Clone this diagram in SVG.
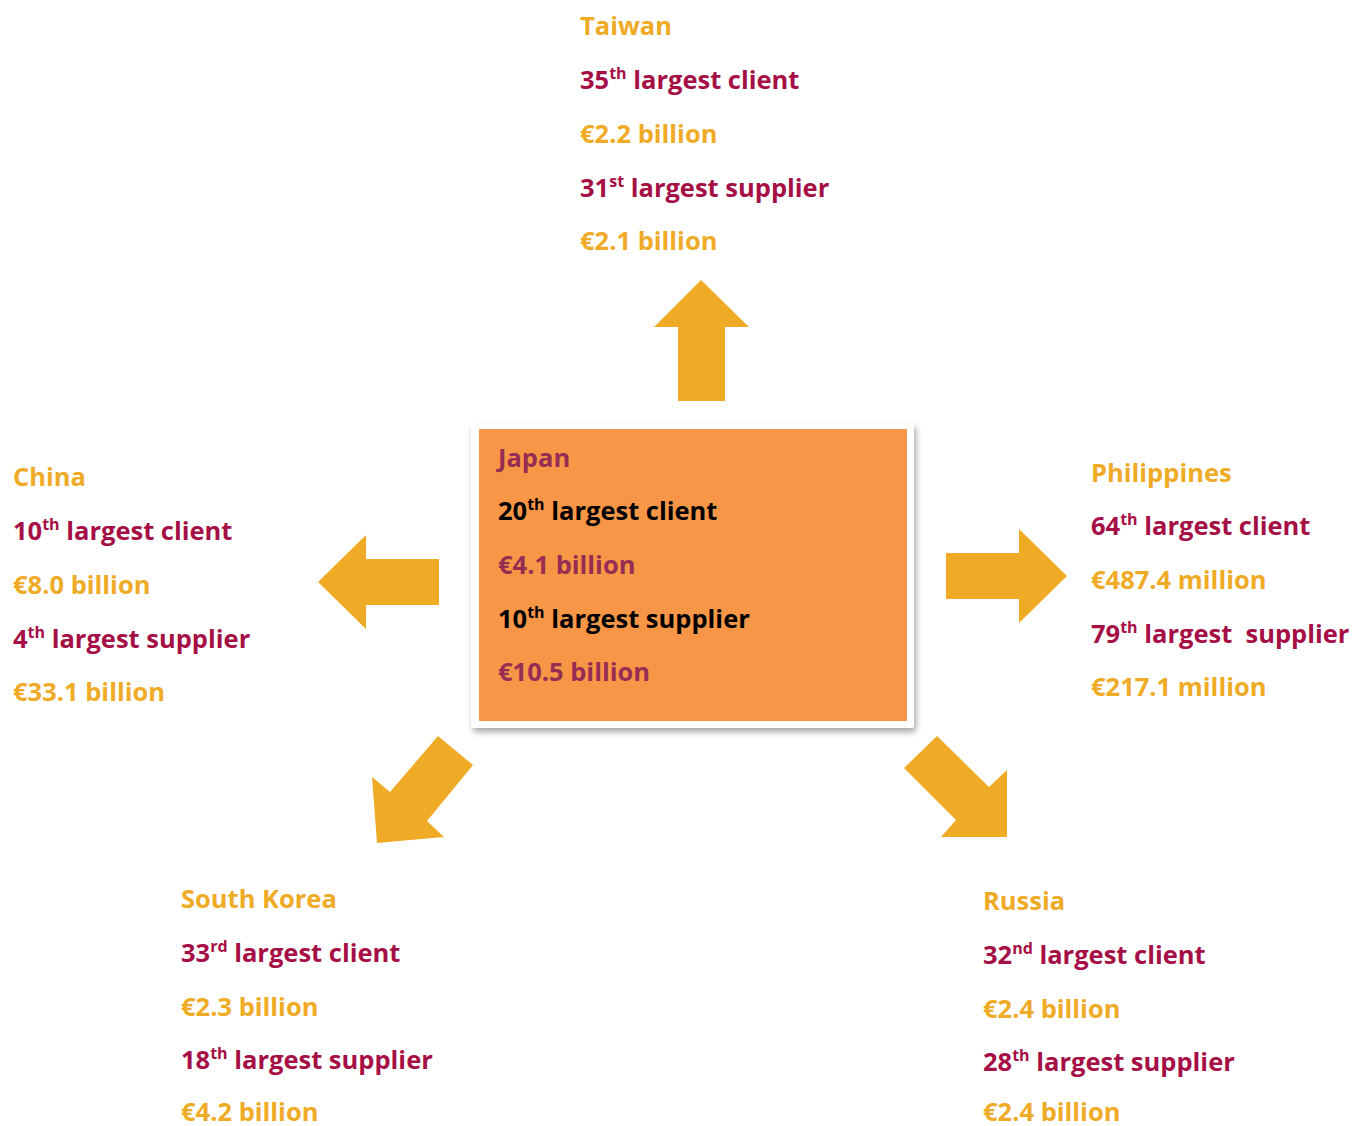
<svg xmlns="http://www.w3.org/2000/svg" width="1354" height="1126" viewBox="0 0 1354 1126">
<style>
text{font-family:"Open Sans","Noto Sans","Liberation Sans",sans-serif;font-weight:bold;font-size:25.5px}
.y{fill:#EFAA26}
.r{fill:#A50F46}
.k{fill:#000}
.p{fill:#962D52}
.s{font-size:16px}
.arrow{fill:#EFAB26}
</style>
<defs>
<filter id="sh" x="-10%" y="-10%" width="125%" height="125%">
<feGaussianBlur in="SourceAlpha" stdDeviation="3"/>
<feOffset dx="2" dy="4" result="b"/>
<feComponentTransfer><feFuncA type="linear" slope="0.35"/></feComponentTransfer>
<feMerge><feMergeNode/><feMergeNode in="SourceGraphic"/></feMerge>
</filter>
</defs>
<rect width="1354" height="1126" fill="#fff"/>
<g id="connectors">
<polygon class="arrow" points="701,280 749,327 725,327 725,401 678,401 678,327 654,327"/>
<polygon class="arrow" points="318,582 366,535 366,559 439,559 439,605 366,605 366,629"/>
<polygon class="arrow" points="1067,576 1019,529 1019,553 946,553 946,599 1019,599 1019,623"/>
<polygon class="arrow" points="438,736 473,765 427,821 444,837 377,843 372,777 390,792"/>
<polygon class="arrow" points="937,736 989,787 1007,770 1007,837 941,837 956,820 904,768"/>
</g>
<g id="japan">
<rect x="471" y="423" width="443" height="305" fill="#fff" filter="url(#sh)" rx="3"/>
<rect x="479" y="429" width="428" height="292" fill="#F79646"/>
<text x="498" y="467" class="p">Japan</text>
<text x="498" y="520" class="k">20<tspan class="s" dy="-10">th</tspan><tspan dy="10"> largest client</tspan></text>
<text x="498" y="574" class="p">€4.1 billion</text>
<text x="498" y="628" class="k">10<tspan class="s" dy="-10">th</tspan><tspan dy="10"> largest supplier</tspan></text>
<text x="498" y="681" class="p">€10.5 billion</text>
</g>
<g id="taiwan">
<text x="580" y="35" class="y">Taiwan</text>
<text x="580" y="89" class="r">35<tspan class="s" dy="-10">th</tspan><tspan dy="10"> largest client</tspan></text>
<text x="580" y="143" class="y">€2.2 billion</text>
<text x="580" y="197" class="r">31<tspan class="s" dy="-10">st</tspan><tspan dy="10"> largest supplier</tspan></text>
<text x="580" y="250" class="y">€2.1 billion</text>
</g>
<g id="china">
<text x="13" y="486" class="y">China</text>
<text x="13" y="540" class="r">10<tspan class="s" dy="-10">th</tspan><tspan dy="10"> largest client</tspan></text>
<text x="13" y="594" class="y">€8.0 billion</text>
<text x="13" y="648" class="r">4<tspan class="s" dy="-10">th</tspan><tspan dy="10"> largest supplier</tspan></text>
<text x="13" y="701" class="y">€33.1 billion</text>
</g>
<g id="philippines">
<text x="1091" y="482" class="y">Philippines</text>
<text x="1091" y="535" class="r">64<tspan class="s" dy="-10">th</tspan><tspan dy="10"> largest client</tspan></text>
<text x="1091" y="589" class="y">€487.4 million</text>
<text x="1091" y="643" class="r">79<tspan class="s" dy="-10">th</tspan><tspan dy="10"> largest &#160;supplier</tspan></text>
<text x="1091" y="696" class="y">€217.1 million</text>
</g>
<g id="south-korea">
<text x="181" y="908" class="y">South Korea</text>
<text x="181" y="962" class="r">33<tspan class="s" dy="-10">rd</tspan><tspan dy="10"> largest client</tspan></text>
<text x="181" y="1016" class="y">€2.3 billion</text>
<text x="181" y="1069" class="r">18<tspan class="s" dy="-10">th</tspan><tspan dy="10"> largest supplier</tspan></text>
<text x="181" y="1121" class="y">€4.2 billion</text>
</g>
<g id="russia">
<text x="983" y="910" class="y">Russia</text>
<text x="983" y="964" class="r">32<tspan class="s" dy="-10">nd</tspan><tspan dy="10"> largest client</tspan></text>
<text x="983" y="1018" class="y">€2.4 billion</text>
<text x="983" y="1071" class="r">28<tspan class="s" dy="-10">th</tspan><tspan dy="10"> largest supplier</tspan></text>
<text x="983" y="1121" class="y">€2.4 billion</text>
</g>
</svg>
